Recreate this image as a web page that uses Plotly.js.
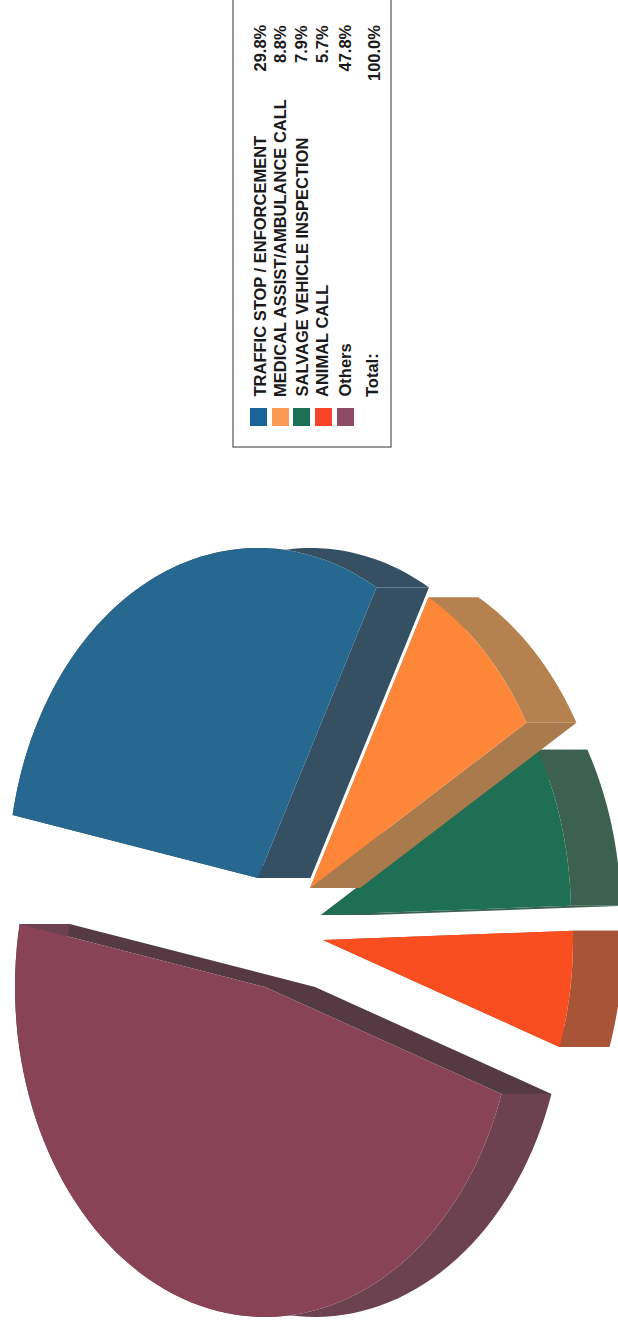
<!DOCTYPE html>
<html>
<head>
<meta charset="utf-8">
<script src="https://cdn.plot.ly/plotly-3.0.1.min.js"></script>
<style>html,body{margin:0;padding:0;background:#fff}#chart{width:618px;height:1326px}</style>
</head>
<body>
<div id="chart"></div>
<script>
// Data
var categories = ["TRAFFIC STOP / ENFORCEMENT", "MEDICAL ASSIST/AMBULANCE CALL", "SALVAGE VEHICLE INSPECTION", "ANIMAL CALL", "Others"];
var shares = [29.8, 8.8, 7.9, 5.7, 47.8];
var totalLabel = "Total:";
var totalValue = 100.0;

// Styles
var topColors = ["#276890", "#fd8638", "#1f6f55", "#fb4e20", "#884357"];
var arcColors = ["#355062", "#b5824f", "#3c6150", "#a85436", "#6c4250"];
var edgeColors = ["#355062", "#a97a4c", "#3c6150", "#a85436", "#553a44"];
var swatchColors = ["#1a6598", "#f99a50", "#1d6f55", "#f8452a", "#8f4a66"];
var centreX = [258, 310, 321, 323, 265];
var centreY = [878, 888, 915, 940, 987];
var depths = [52.5, 50, 50, 50, 50];
var drawOrder = [4, 3, 2, 0, 1];

var RX = 250, RY = 330, START_DEG = -169;

function rad(d) { return d * Math.PI / 180; }
function arc(i, from, to, shift) {
  var pts = [], n = 80;
  for (var k = 0; k <= n; k++) {
    var t = rad(from + (to - from) * k / n);
    pts.push([centreX[i] + RX * Math.cos(t) + shift, centreY[i] + RY * Math.sin(t)]);
  }
  return pts;
}
function poly(pts, color, name) {
  var xs = pts.map(function (p) { return p[0]; });
  var ys = pts.map(function (p) { return p[1]; });
  xs.push(xs[0]); ys.push(ys[0]);
  return { type: "scatter", mode: "none", x: xs, y: ys, fill: "toself", fillcolor: color, hoverinfo: "skip", name: name, showlegend: false };
}

var starts = [], acc = START_DEG;
shares.forEach(function (v) { starts.push(acc); acc += v / totalValue * 360; });

var traces = [];
drawOrder.forEach(function (i) {
  var a = starts[i], b = a + shares[i] / totalValue * 360, d = depths[i];
  var outer = arc(i, a, b, 0), outerShift = arc(i, a, b, d);
  var c = [centreX[i], centreY[i]], cs = [centreX[i] + d, centreY[i]];
  var first = outer[0], last = outer[outer.length - 1];
  traces.push(poly([c, first, [first[0] + d, first[1]], cs], edgeColors[i], categories[i] + " edge"));
  traces.push(poly([c, last, [last[0] + d, last[1]], cs], edgeColors[i], categories[i] + " edge"));
  traces.push(poly(outer.concat(outerShift.slice().reverse()), arcColors[i], categories[i] + " side"));
  traces.push(poly([c].concat(outer), topColors[i], categories[i]));
});

// Legend panel (rotated page)
var font = { family: "Liberation Sans, Arial, sans-serif", size: 16.5, color: "#1a1a1a", weight: 700 };
var rowX = [259, 280, 301, 322, 344];
var swatchX = [250, 272, 293, 315, 337];
var swatchW = 17;
var annotations = [], shapes = [];
function txt(s, x, y, anchor) {
  annotations.push({ text: s, x: x, y: y, xref: "x", yref: "y", showarrow: false, textangle: -90, xanchor: "center", yanchor: anchor, font: font, borderpad: 0 });
}
categories.forEach(function (c, i) {
  txt(c, rowX[i], 398, "bottom");
  txt(shares[i].toFixed(1) + "%", rowX[i], 24, "top");
  shapes.push({ type: "rect", xref: "x", yref: "y", x0: swatchX[i], x1: swatchX[i] + swatchW, y0: 408, y1: 426, fillcolor: swatchColors[i], line: { width: 0 } });
});
txt(totalLabel, 372, 398, "bottom");
txt(totalValue.toFixed(1) + "%", 374, 24, "top");
shapes.push({ type: "path", xref: "x", yref: "y", path: "M 233 -5 L 233 447 L 391 447 L 391 -5", line: { color: "#777", width: 1.5 } });

var layout = {
  width: 618, height: 1326,
  margin: { l: 0, r: 0, t: 0, b: 0 },
  paper_bgcolor: "#fff", plot_bgcolor: "#fff",
  showlegend: false,
  xaxis: { range: [0, 618], visible: false, fixedrange: true },
  yaxis: { range: [1326, 0], visible: false, fixedrange: true },
  annotations: annotations, shapes: shapes
};
Plotly.newPlot("chart", traces, layout, { displayModeBar: false, staticPlot: true });
</script>
</body>
</html>
